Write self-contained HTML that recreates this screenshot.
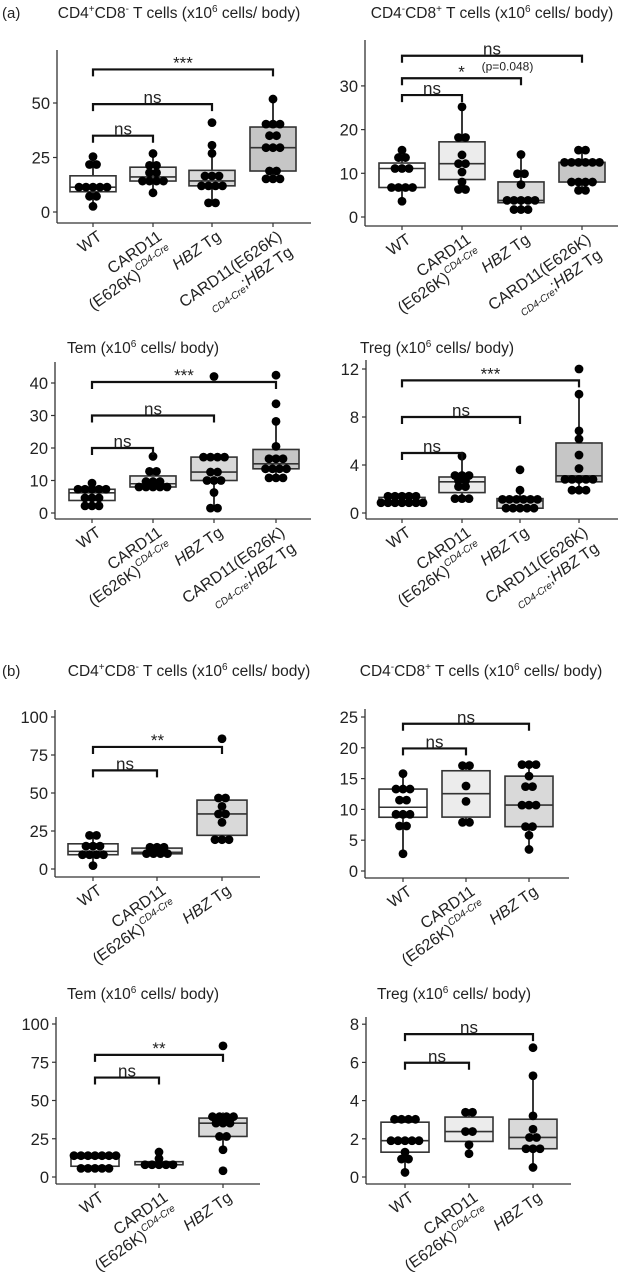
<!DOCTYPE html>
<html>
<head>
<meta charset="utf-8">
<style>
  html,body{margin:0;padding:0;background:#fff;}
  svg{display:block;font-family:"Liberation Sans",Arial,sans-serif;}
</style>
</head>
<body>
<svg id="fig" width="618" height="1272" viewBox="0 0 618 1272" xmlns="http://www.w3.org/2000/svg">
  <rect x="0" y="0" width="618" height="1272" fill="#fff"/>
  <text x="2" y="18" font-size="15" fill="#222">(a)</text>
  <text x="2" y="676" font-size="15" fill="#222">(b)</text>
</svg>
<script>
// ---------- DATA ----------
const a1Ticks = [0, 25, 50];
const a1_wt = [25.4, 21.8, 21.8, 11.4, 11.4, 11.4, 11.4, 11.4, 7.2, 7.2, 2.6];
const a1_card = [26.8, 21.4, 21.4, 18, 18, 14.2, 14.2, 14.2, 14.2, 8.8];
const a1_hbz = [41, 30.6, 26.9, 16.5, 16.5, 16.5, 12, 12, 12, 12, 4.2, 4.2];
const a1_combo = [51.8, 40.3, 40.3, 40.3, 35, 35, 29.5, 29.5, 29.5, 18.8, 18.8, 15.2, 15.2, 15.2];
const a1Brackets = [[0, 3, 65.4, "***", ""], [0, 2, 49.5, "ns", ""], [0, 1, 35, "ns", ""]];

const a2Ticks = [0, 10, 20, 30];
const a2_wt = [15.3, 13.6, 13.6, 11.1, 11.1, 11.1, 7.2, 7.2, 6.3, 6.3, 3.6];
const a2_card = [25.2, 18.2, 18.2, 14.2, 12.2, 12.2, 10.3, 8, 6.3, 6.3];
const a2_hbz = [14.3, 9.9, 9.9, 7.4, 3.8, 3.8, 3.8, 3.8, 3.8, 1.7, 1.7, 1.7];
const a2_combo = [15.3, 15.3, 12.5, 12.5, 12.5, 12.5, 12.5, 12.5, 8, 8, 8, 8, 6.1, 6.1];
const a2Brackets = [[0, 3, 36.9, "ns", ""], [0, 2, 31.75, "*", "(p=0.048)"], [0, 1, 27.9, "ns", ""]];

const a3Ticks = [0, 10, 20, 30, 40];
const a3_wt = [9.2, 7.3, 7.3, 7.3, 7.3, 7.3, 5.1, 4.4, 4.4, 2.2, 2.2, 2.2];
const a3_card = [17.4, 12.8, 12.8, 10, 10, 9, 8, 8, 8, 8, 8];
const a3_hbz = [42, 17.2, 17.2, 17.2, 17.2, 12.6, 12.6, 10, 10, 10, 6.3, 1.5, 1.5];
const a3_combo = [42.4, 33.6, 28.2, 20.5, 16.7, 16.7, 16.7, 13.6, 13.6, 13.6, 13.6, 10.8, 10.8, 10.8];
const a3Brackets = [[0, 3, 40.3, "***", ""], [0, 2, 30, "ns", ""], [0, 1, 20, "ns", ""]];

const a4Ticks = [0, 4, 8, 12];
const a4_wt = [1.67, 1.5, 1.3, 1.3, 1.2, 1.1, 1.0, 0.8, 0.8, 0.8, 0.75, 0.75];
const a4_card = [4.74, 3.38, 3.0, 3.0, 2.8, 2.6, 2.2, 2.2, 1.2, 1.2, 1.2];
const a4_hbz = [3.6, 1.9, 1.2, 1.2, 1.2, 1.2, 1.0, 1.0, 0.4, 0.4, 0.4, 0.4, 0.4];
const a4_combo = [12, 9.9, 6.84, 6.17, 4.83, 3.71, 3.1, 3.1, 2.6, 2.6, 2.6, 1.9, 1.9, 1.9];
const a4Brackets = [[0, 3, 11.05, "***", ""], [0, 2, 8, "ns", ""], [0, 1, 5, "ns", ""]];

const b1Ticks = [0, 25, 50, 75, 100];
const b1_wt = [22.1, 22.1, 17.5, 13.8, 13.8, 9.4, 9.4, 9.4, 9.4, 2.2];
const b1_card = [15.5, 15.5, 12, 11, 10, 10, 9.5];
const b1_hbz = [85.7, 46.7, 46.7, 41.2, 36.2, 36.2, 30.7, 19.3, 19.3, 19.3];
const b1Brackets = [[0, 2, 80.3, "**", ""], [0, 1, 64.9, "ns", ""]];

const b2Ticks = [0, 5, 10, 15, 20, 25];
const b2_wt = [15.8, 13.3, 13.3, 13.3, 11.5, 11.5, 9.2, 9.2, 9.2, 7.3, 7.3, 2.8];
const b2_card = [17.1, 17.1, 13.8, 11.3, 7.9, 7.9];
const b2_hbz = [17.5, 17.5, 16.8, 15.4, 13.7, 13.7, 10.7, 10.7, 10.7, 7.2, 7.2, 5.8, 3.5];
const b2Brackets = [[0, 2, 23.9, "ns", ""], [0, 1, 19.9, "ns", ""]];

const b3Ticks = [0, 25, 50, 75, 100];
const b3_wt = [16, 16, 16, 12.4, 12.4, 12.4, 12.4, 8, 8, 4.1, 4.1, 4.1];
const b3_card = [16.3, 12, 8, 8, 8, 8, 8];
const b3_hbz = [85.7, 42.2, 38.5, 38.5, 38.5, 35.2, 35.2, 35.2, 26.5, 26.5, 17.8, 4.1];
const b3Brackets = [[0, 2, 79.8, "**", ""], [0, 1, 65, "ns", ""]];

const b4Ticks = [0, 2, 4, 6, 8];
const b4_wt = [3.17, 3.17, 2.87, 2.87, 1.9, 1.9, 1.9, 1.9, 1.9, 1.3, 0.94, 0.94, 0.24];
const b4_card = [3.39, 3.39, 2.38, 2.38, 1.69, 1.22];
const b4_hbz = [6.77, 5.3, 3.2, 2.5, 2.07, 2.07, 1.48, 1.48, 1.48, 0.5];
const b4Brackets = [[0, 2, 7.48, "ns", ""], [0, 1, 5.98, "ns", ""]];

// ---------- LAYOUT ----------
const NS = "http://www.w3.org/2000/svg";
const svg = document.getElementById("fig");
const FILLS = ["#ffffff", "#ececec", "#d9d9d9", "#c6c6c6"];
const INK = "#222";

function mk(tag, attrs, parent) {
  const e = document.createElementNS(NS, tag);
  for (const k in attrs) e.setAttribute(k, attrs[k]);
  if (parent) parent.appendChild(e);
  return e;
}
function ts(parent, txt, attrs) {
  const t = mk("tspan", attrs || {}, parent);
  t.textContent = txt;
  return t;
}
function quantile(sorted, p) {
  const h = (sorted.length - 1) * p, lo = Math.floor(h), hi = Math.ceil(h);
  return sorted[lo] + (sorted[hi] - sorted[lo]) * (h - lo);
}

const panels = [
  {id:"a1", title:"cd4", tx:179, ty:18, cats:[93,153,212,273], axisX:57, xAxisY:223, y0:212, k:2.18, top:50, right:311, bw:46, labels:["WT","CARD","HBZ","COMBO"], data:[a1_wt,a1_card,a1_hbz,a1_combo], ticks:a1Ticks, brackets:a1Brackets},
  {id:"a2", title:"cd8", tx:492, ty:18, cats:[402,462,521,582], axisX:365, xAxisY:226, y0:217, k:4.37, top:40, right:618, bw:46, labels:["WT","CARD","HBZ","COMBO"], data:[a2_wt,a2_card,a2_hbz,a2_combo], ticks:a2Ticks, brackets:a2Brackets},
  {id:"a3", title:"tem", tx:143, ty:353, cats:[92,153,214,276], axisX:55, xAxisY:519, y0:513, k:3.25, top:362, right:311, bw:46, labels:["WT","CARD","HBZ","COMBO"], data:[a3_wt,a3_card,a3_hbz,a3_combo], ticks:a3Ticks, brackets:a3Brackets},
  {id:"a4", title:"treg", tx:437, ty:353, cats:[402,462,520,579], axisX:366, xAxisY:519, y0:513, k:12, top:360, right:618, bw:46, labels:["WT","CARD","HBZ","COMBO"], data:[a4_wt,a4_card,a4_hbz,a4_combo], ticks:a4Ticks, brackets:a4Brackets},
  {id:"b1", title:"cd4", tx:189, ty:676, cats:[93,157,222], axisX:55, xAxisY:877, y0:869, k:1.52, top:710, right:260, bw:50, labels:["WT","CARD","HBZ"], data:[b1_wt,b1_card,b1_hbz], ticks:b1Ticks, brackets:b1Brackets},
  {id:"b2", title:"cd8", tx:481, ty:676, cats:[403,466,529], axisX:365, xAxisY:878, y0:871, k:6.16, top:709, right:569, bw:48, labels:["WT","CARD","HBZ"], data:[b2_wt,b2_card,b2_hbz], ticks:b2Ticks, brackets:b2Brackets},
  {id:"b3", title:"tem", tx:143, ty:999, cats:[95,159,223], axisX:56, xAxisY:1184, y0:1177, k:1.53, top:1017, right:260, bw:48, labels:["WT","CARD","HBZ"], data:[b3_wt,b3_card,b3_hbz], ticks:b3Ticks, brackets:b3Brackets},
  {id:"b4", title:"treg", tx:454, ty:999, cats:[405,469,533], axisX:366, xAxisY:1184, y0:1177, k:19.1, top:1017, right:571, bw:48, labels:["WT","CARD","HBZ"], data:[b4_wt,b4_card,b4_hbz], ticks:b4Ticks, brackets:b4Brackets}
];

function drawTitle(g, p) {
  const t = mk("text", {x:p.tx, y:p.ty, "text-anchor":"middle", "font-size":"15.5", fill:INK}, g);
  
  
  const sup = (s) => { ts(t, s, {"font-size":"10", dy:"-6"}); };
  const back = (s) => { ts(t, s, {dy:"6"}); };
  if (p.title === "cd4") { ts(t,"CD4"); sup("+"); back("CD8"); sup("-"); back(" T cells (x10"); sup("6"); back(" cells/ body)"); }
  else if (p.title === "cd8") { ts(t,"CD4"); sup("-"); back("CD8"); sup("+"); back(" T cells (x10"); sup("6"); back(" cells/ body)"); }
  else if (p.title === "tem") { ts(t,"Tem (x10"); sup("6"); back(" cells/ body)"); }
  else { ts(t,"Treg (x10"); sup("6"); back(" cells/ body)"); }
}

function drawCatLabel(g, cx, axisY, type) {
  const lg = mk("g", {transform:"translate(" + (cx + 3) + "," + (axisY + 6) + ") rotate(-35)"}, g);
  
  
  const base = {"text-anchor":"end", "font-size":"16", fill:INK, x:"0"};
  if (type === "WT") {
    const t = mk("text", Object.assign({}, base, {y:"12"}), lg); t.textContent = "WT";
  } else if (type === "HBZ") {
    const t = mk("text", Object.assign({}, base, {y:"12"}), lg);
    ts(t, "HBZ", {"font-style":"italic"}); ts(t, " Tg");
  } else if (type === "CARD") {
    const t1 = mk("text", Object.assign({}, base, {y:"12"}), lg); t1.textContent = "CARD11";
    const t2 = mk("text", Object.assign({}, base, {y:"31"}), lg);
    ts(t2, "(E626K)"); ts(t2, "CD4-Cre", {"font-size":"10", "font-style":"italic", dy:"-7"});
  } else {
    const t1 = mk("text", Object.assign({}, base, {y:"12"}), lg); t1.textContent = "CARD11(E626K)";
    const t2 = mk("text", Object.assign({}, base, {y:"31"}), lg);
    ts(t2, "CD4-Cre", {"font-size":"10", "font-style":"italic", dy:"3"});
    ts(t2, ";", {dy:"-3"});
    ts(t2, "HBZ", {"font-style":"italic"}); ts(t2, " Tg");
  }
}

function drawPanel(p) {
  const g = mk("g", {}, svg);
  
  
  const y = v => p.y0 - v * p.k;

  drawTitle(g, p);

  const ya = mk("line", {x1:p.axisX, y1:p.top, x2:p.axisX, y2:p.xAxisY, stroke:"#333", "stroke-width":"1.3"}, g);
  
  
  const xa = mk("line", {x1:p.axisX, y1:p.xAxisY, x2:p.right, y2:p.xAxisY, stroke:"#333", "stroke-width":"1.3"}, g);
  
  

  p.ticks.forEach(t => {
    const yy = y(t);
    mk("line", {x1:p.axisX - 4, y1:yy, x2:p.axisX, y2:yy, stroke:"#333", "stroke-width":"1.2"}, g);
    const lab = mk("text", {x:p.axisX - 7, y:yy + 6, "text-anchor":"end", "font-size":"16.5", fill:INK}, g);
    
    
    lab.textContent = String(t);
  });

  p.cats.forEach((cx, i) => {
    mk("line", {x1:cx, y1:p.xAxisY, x2:cx, y2:p.xAxisY + 4, stroke:"#333", "stroke-width":"1.2"}, g);
    drawCatLabel(g, cx, p.xAxisY, p.labels[i]);
  });

  p.data.forEach((vals, i) => {
    const cx = p.cats[i];
    const s = vals.slice().sort((a, b) => a - b);
    const q1 = quantile(s, 0.25), med = quantile(s, 0.5), q3 = quantile(s, 0.75);
    const iqr = q3 - q1;
    const lo = s.find(v => v >= q1 - 1.5 * iqr);
    const hi = s.slice().reverse().find(v => v <= q3 + 1.5 * iqr);
    const bg = mk("g", {}, g);
    
    
    mk("line", {x1:cx, y1:y(hi), x2:cx, y2:y(lo), stroke:"#222", "stroke-width":"1.8"}, bg);
    mk("rect", {x:cx - p.bw / 2, y:y(q3), width:p.bw, height:Math.max(1, y(q1) - y(q3)), fill:FILLS[i], stroke:"#333", "stroke-width":"1.6"}, bg);
    mk("line", {x1:cx - p.bw / 2, y1:y(med), x2:cx + p.bw / 2, y2:y(med), stroke:"#333", "stroke-width":"1.6"}, bg);

    const desc = vals.slice().sort((a, b) => b - a);
    const bins = [];
    desc.forEach(v => {
      const yy = y(v);
      const last = bins[bins.length - 1];
      if (last && Math.abs(yy - last.start) <= 6) last.ys.push(yy);
      else bins.push({start:yy, ys:[yy]});
    });
    bins.forEach(b => {
      const n = b.ys.length;
      const by = b.ys.reduce((a, c) => a + c, 0) / n;
      for (let j = 0; j < n; j++) {
        const d = mk("circle", {cx:cx + (j - (n - 1) / 2) * 7, cy:by, r:"4.4", fill:"#000"}, bg);
        
        
      }
    });
  });

  p.brackets.forEach(br => {
    const x1 = p.cats[br[0]], x2 = p.cats[br[1]], yy = y(br[2]);
    const bk = mk("g", {}, g);
    
    
    mk("path", {d:"M" + x1 + "," + (yy + 7) + " L" + x1 + "," + yy + " L" + x2 + "," + yy + " L" + x2 + "," + (yy + 7), fill:"none", stroke:"#111", "stroke-width":"2.2"}, bk);
    const lt = mk("text", {x:(x1 + x2) / 2, y:yy - 1, "text-anchor":"middle", "font-size":"17", fill:INK}, bk);
    
    
    lt.textContent = br[3];
    if (br[4]) {
      const pt = mk("text", {x:(x1 + x2) / 2 + 46, y:yy - 8, "text-anchor":"middle", "font-size":"12", fill:INK}, bk);
      
      
      pt.textContent = br[4];
    }
  });
}

panels.forEach(drawPanel);
</script>
</body>
</html>
